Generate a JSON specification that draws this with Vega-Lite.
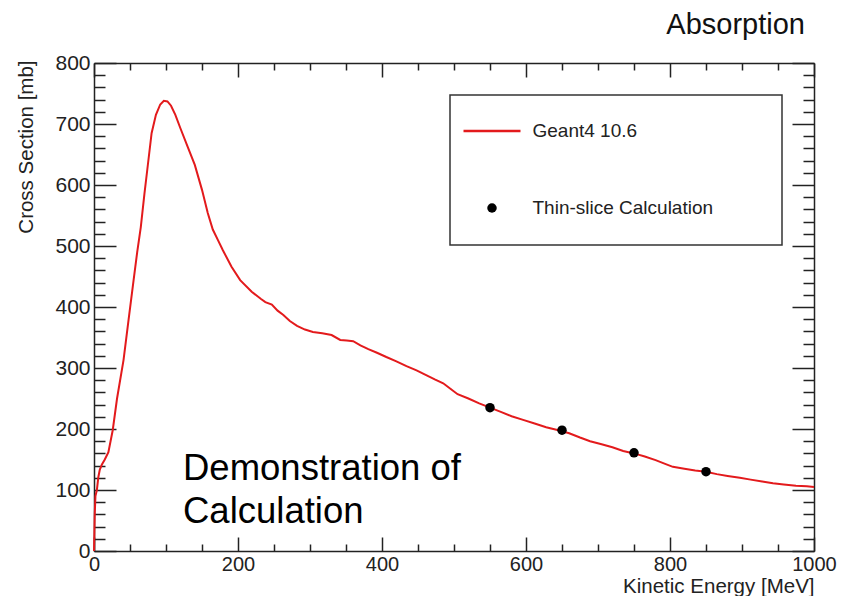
{
  "$schema": "https://vega.github.io/schema/vega-lite/v6.json",
  "width": 720,
  "height": 488,
  "autosize": {"type": "none"},
  "padding": {"left": 94, "top": 63, "right": 36, "bottom": 45},
  "background": "white",
  "config": {
    "view": {"stroke": null},
    "font": "Liberation Sans",
    "axis": {
      "grid": false,
      "domainColor": "#222222",
      "tickColor": "#222222",
      "domainWidth": 1.5,
      "tickWidth": 1.5,
      "labelColor": "#222222",
      "labelFont": "Liberation Sans",
      "labelFontSize": 21,
      "titleFont": "Liberation Sans",
      "titleFontWeight": "normal",
      "titleColor": "#222222",
      "labelFlush": false,
      "labelOverlap": false,
      "format": "d"
    }
  },
  "title": {
    "text": "Absorption",
    "anchor": "end",
    "frame": "group",
    "fontSize": 29,
    "fontWeight": "normal",
    "font": "Liberation Sans",
    "color": "#111111",
    "baseline": "alphabetic",
    "offset": -11,
    "dx": -9
  },
  "datasets": {
    "curve": [
      {"energy": 0, "xs": 0, "series": "Geant4 10.6"},
      {"energy": 1, "xs": 60, "series": "Geant4 10.6"},
      {"energy": 2, "xs": 90, "series": "Geant4 10.6"},
      {"energy": 4, "xs": 100, "series": "Geant4 10.6"},
      {"energy": 6, "xs": 121, "series": "Geant4 10.6"},
      {"energy": 8, "xs": 133, "series": "Geant4 10.6"},
      {"energy": 11, "xs": 142, "series": "Geant4 10.6"},
      {"energy": 15, "xs": 150, "series": "Geant4 10.6"},
      {"energy": 20, "xs": 162, "series": "Geant4 10.6"},
      {"energy": 26, "xs": 198, "series": "Geant4 10.6"},
      {"energy": 32, "xs": 250, "series": "Geant4 10.6"},
      {"energy": 41, "xs": 313, "series": "Geant4 10.6"},
      {"energy": 48, "xs": 379, "series": "Geant4 10.6"},
      {"energy": 55, "xs": 444, "series": "Geant4 10.6"},
      {"energy": 60, "xs": 490, "series": "Geant4 10.6"},
      {"energy": 65, "xs": 531, "series": "Geant4 10.6"},
      {"energy": 70, "xs": 585, "series": "Geant4 10.6"},
      {"energy": 74, "xs": 625, "series": "Geant4 10.6"},
      {"energy": 80, "xs": 685, "series": "Geant4 10.6"},
      {"energy": 86, "xs": 715, "series": "Geant4 10.6"},
      {"energy": 92, "xs": 732, "series": "Geant4 10.6"},
      {"energy": 97, "xs": 738, "series": "Geant4 10.6"},
      {"energy": 102, "xs": 737, "series": "Geant4 10.6"},
      {"energy": 107, "xs": 730, "series": "Geant4 10.6"},
      {"energy": 113, "xs": 715, "series": "Geant4 10.6"},
      {"energy": 120, "xs": 693, "series": "Geant4 10.6"},
      {"energy": 130, "xs": 663, "series": "Geant4 10.6"},
      {"energy": 140, "xs": 633, "series": "Geant4 10.6"},
      {"energy": 150, "xs": 592, "series": "Geant4 10.6"},
      {"energy": 158, "xs": 554, "series": "Geant4 10.6"},
      {"energy": 165, "xs": 527, "series": "Geant4 10.6"},
      {"energy": 172, "xs": 510, "series": "Geant4 10.6"},
      {"energy": 179, "xs": 493, "series": "Geant4 10.6"},
      {"energy": 191, "xs": 466, "series": "Geant4 10.6"},
      {"energy": 203, "xs": 444, "series": "Geant4 10.6"},
      {"energy": 219, "xs": 425, "series": "Geant4 10.6"},
      {"energy": 232, "xs": 413, "series": "Geant4 10.6"},
      {"energy": 238, "xs": 408, "series": "Geant4 10.6"},
      {"energy": 247, "xs": 404, "series": "Geant4 10.6"},
      {"energy": 255, "xs": 394, "series": "Geant4 10.6"},
      {"energy": 263, "xs": 387, "series": "Geant4 10.6"},
      {"energy": 272, "xs": 377, "series": "Geant4 10.6"},
      {"energy": 282, "xs": 369, "series": "Geant4 10.6"},
      {"energy": 293, "xs": 363, "series": "Geant4 10.6"},
      {"energy": 304, "xs": 359, "series": "Geant4 10.6"},
      {"energy": 317, "xs": 357, "series": "Geant4 10.6"},
      {"energy": 330, "xs": 354, "series": "Geant4 10.6"},
      {"energy": 342, "xs": 346, "series": "Geant4 10.6"},
      {"energy": 351, "xs": 345, "series": "Geant4 10.6"},
      {"energy": 360, "xs": 344, "series": "Geant4 10.6"},
      {"energy": 370, "xs": 337, "series": "Geant4 10.6"},
      {"energy": 381, "xs": 331, "series": "Geant4 10.6"},
      {"energy": 393, "xs": 325, "series": "Geant4 10.6"},
      {"energy": 406, "xs": 318, "series": "Geant4 10.6"},
      {"energy": 420, "xs": 311, "series": "Geant4 10.6"},
      {"energy": 434, "xs": 303, "series": "Geant4 10.6"},
      {"energy": 448, "xs": 296, "series": "Geant4 10.6"},
      {"energy": 462, "xs": 288, "series": "Geant4 10.6"},
      {"energy": 474, "xs": 281, "series": "Geant4 10.6"},
      {"energy": 485, "xs": 275, "series": "Geant4 10.6"},
      {"energy": 495, "xs": 266, "series": "Geant4 10.6"},
      {"energy": 505, "xs": 257, "series": "Geant4 10.6"},
      {"energy": 520, "xs": 250, "series": "Geant4 10.6"},
      {"energy": 535, "xs": 242, "series": "Geant4 10.6"},
      {"energy": 550, "xs": 235, "series": "Geant4 10.6"},
      {"energy": 565, "xs": 228, "series": "Geant4 10.6"},
      {"energy": 580, "xs": 221, "series": "Geant4 10.6"},
      {"energy": 596, "xs": 215, "series": "Geant4 10.6"},
      {"energy": 612, "xs": 209, "series": "Geant4 10.6"},
      {"energy": 628, "xs": 203, "series": "Geant4 10.6"},
      {"energy": 645, "xs": 198, "series": "Geant4 10.6"},
      {"energy": 660, "xs": 193, "series": "Geant4 10.6"},
      {"energy": 675, "xs": 186, "series": "Geant4 10.6"},
      {"energy": 689, "xs": 180, "series": "Geant4 10.6"},
      {"energy": 705, "xs": 175, "series": "Geant4 10.6"},
      {"energy": 720, "xs": 170, "series": "Geant4 10.6"},
      {"energy": 735, "xs": 164, "series": "Geant4 10.6"},
      {"energy": 750, "xs": 160, "series": "Geant4 10.6"},
      {"energy": 765, "xs": 155, "series": "Geant4 10.6"},
      {"energy": 780, "xs": 149, "series": "Geant4 10.6"},
      {"energy": 795, "xs": 142, "series": "Geant4 10.6"},
      {"energy": 804, "xs": 138, "series": "Geant4 10.6"},
      {"energy": 820, "xs": 135, "series": "Geant4 10.6"},
      {"energy": 835, "xs": 132, "series": "Geant4 10.6"},
      {"energy": 850, "xs": 130, "series": "Geant4 10.6"},
      {"energy": 865, "xs": 126, "series": "Geant4 10.6"},
      {"energy": 880, "xs": 123, "series": "Geant4 10.6"},
      {"energy": 897, "xs": 120, "series": "Geant4 10.6"},
      {"energy": 912, "xs": 117, "series": "Geant4 10.6"},
      {"energy": 928, "xs": 114, "series": "Geant4 10.6"},
      {"energy": 943, "xs": 111, "series": "Geant4 10.6"},
      {"energy": 958, "xs": 109, "series": "Geant4 10.6"},
      {"energy": 975, "xs": 107, "series": "Geant4 10.6"},
      {"energy": 990, "xs": 106, "series": "Geant4 10.6"},
      {"energy": 1000, "xs": 105, "series": "Geant4 10.6"}
    ],
    "calc": [
      {"energy": 550, "xs": 235, "series": "Thin-slice Calculation"},
      {"energy": 650, "xs": 198, "series": "Thin-slice Calculation"},
      {"energy": 750, "xs": 161, "series": "Thin-slice Calculation"},
      {"energy": 850, "xs": 130, "series": "Thin-slice Calculation"}
    ]
  },
  "layer": [
    {
      "data": {"name": "curve"},
      "mark": {"type": "line", "strokeWidth": 2},
      "encoding": {
        "x": {
          "field": "energy",
          "type": "quantitative",
          "scale": {"domain": [0, 1000], "nice": false},
          "axis": {
            "orient": "bottom",
            "values": [0, 200, 400, 600, 800, 1000],
            "tickSize": -14,
            "labelPadding": 17,
            "labelFontSize": 20,
            "title": "Kinetic Energy [MeV]",
            "titleFontSize": 20.5,
            "titleX": 720,
            "titleY": 41,
            "titleAlign": "right",
            "titleBaseline": "alphabetic"
          }
        },
        "y": {
          "field": "xs",
          "type": "quantitative",
          "scale": {"domain": [0, 800], "nice": false},
          "axis": {
            "orient": "left",
            "values": [0, 100, 200, 300, 400, 500, 600, 700, 800],
            "tickSize": -22,
            "labelPadding": 26,
            "title": "Cross Section [mb]",
            "titleFontSize": 20.5,
            "titleX": -68,
            "titleY": -3,
            "titleAlign": "right",
            "titleBaseline": "middle",
            "titleAngle": -90
          }
        },
        "color": {
          "field": "series",
          "type": "nominal",
          "scale": {"domain": ["Geant4 10.6", "Thin-slice Calculation"], "range": ["#e31a1c", "#000000"]},
          "legend": {
            "orient": "none",
            "legendX": 356,
            "legendY": 32,
            "title": null,
            "strokeColor": "#333333",
            "fillColor": "white",
            "padding": 26.5,
            "symbolSize": 3249,
            "rowPadding": 57,
            "labelOffset": 31,
            "symbolOffset": 6,
            "labelFontSize": 19,
            "labelFont": "Liberation Sans",
            "labelColor": "#222222",
            "labelLimit": 400,
            "labelExpr": "datum.label + '\u2800\u2800\u2800'",
            "encode": {
              "legend": {"update": {"strokeWidth": {"value": 1.5}}},
              "symbols": {
                "update": {
                  "shape": {"signal": "datum.value === 'Geant4 10.6' ? 'stroke' : 'circle'"},
                  "size": {"signal": "datum.value === 'Geant4 10.6' ? 3249 : 90"},
                  "fill": {"signal": "datum.value === 'Geant4 10.6' ? 'transparent' : 'black'"},
                  "stroke": {"signal": "datum.value === 'Geant4 10.6' ? '#e31a1c' : 'black'"},
                  "strokeWidth": {"signal": "datum.value === 'Geant4 10.6' ? 2.5 : 0"},
                  "opacity": {"value": 1}
                }
              }
            }
          }
        }
      }
    },
    {
      "data": {"name": "calc"},
      "mark": {"type": "circle", "size": 90, "opacity": 1},
      "encoding": {
        "x": {
          "field": "energy",
          "type": "quantitative",
          "axis": {
            "orient": "bottom",
            "values": [50, 100, 150, 250, 300, 350, 450, 500, 550, 650, 700, 750, 850, 900, 950],
            "tickSize": -7,
            "labels": false,
            "domain": false,
            "title": null
          }
        },
        "y": {
          "field": "xs",
          "type": "quantitative",
          "axis": {
            "orient": "left",
            "values": [20, 40, 60, 80, 120, 140, 160, 180, 220, 240, 260, 280, 320, 340, 360, 380, 420, 440, 460, 480, 520, 540, 560, 580, 620, 640, 660, 680, 720, 740, 760, 780],
            "tickSize": -11,
            "labels": false,
            "domain": false,
            "title": null
          }
        },
        "color": {"field": "series", "type": "nominal"}
      }
    },
    {
      "data": {"values": [{}]},
      "mark": {"type": "text", "align": "left", "baseline": "alphabetic", "fontSize": 36.5, "lineHeight": 43, "font": "Liberation Sans", "color": "black"},
      "encoding": {
        "x": {
          "datum": 123.6,
          "type": "quantitative",
          "axis": {
            "orient": "top",
            "values": [0, 200, 400, 600, 800, 1000],
            "tickSize": -14,
            "labels": false,
            "title": null
          }
        },
        "y": {
          "datum": 116,
          "type": "quantitative",
          "axis": {
            "orient": "right",
            "values": [0, 100, 200, 300, 400, 500, 600, 700, 800],
            "tickSize": -22,
            "labels": false,
            "title": null
          }
        },
        "text": {"value": ["Demonstration of", "Calculation"]}
      }
    },
    {
      "data": {"name": "calc"},
      "mark": {"type": "point", "opacity": 0},
      "encoding": {
        "x": {
          "field": "energy",
          "type": "quantitative",
          "axis": {
            "orient": "top",
            "values": [50, 100, 150, 250, 300, 350, 450, 500, 550, 650, 700, 750, 850, 900, 950],
            "tickSize": -7,
            "labels": false,
            "domain": false,
            "title": null
          }
        },
        "y": {
          "field": "xs",
          "type": "quantitative",
          "axis": {
            "orient": "right",
            "values": [20, 40, 60, 80, 120, 140, 160, 180, 220, 240, 260, 280, 320, 340, 360, 380, 420, 440, 460, 480, 520, 540, 560, 580, 620, 640, 660, 680, 720, 740, 760, 780],
            "tickSize": -11,
            "labels": false,
            "domain": false,
            "title": null
          }
        }
      }
    }
  ],
  "resolve": {"axis": {"x": "independent", "y": "independent"}}
}
